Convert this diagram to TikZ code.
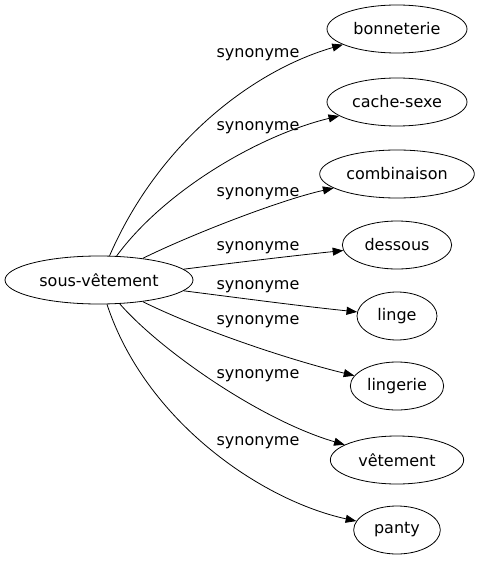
\documentclass[tikz,border=0pt]{standalone}
\usepackage{fontspec}
\setmainfont{DejaVu Sans}
\usetikzlibrary{shapes.geometric,arrows.meta}
\tikzset{
  mot/.style={draw,ellipse,inner sep=0pt,minimum height=36pt,font=\fontsize{12}{14}\selectfont},
  syn/.style={draw,line width=0.6pt,-{Triangle[length=8pt,width=6pt]}},
  lbl/.style={font=\fontsize{12}{14}\selectfont,inner sep=0pt}
}
\begin{document}
\begin{tikzpicture}[x=0.75pt,y=-0.75pt,line width=0.6pt]
  \useasboundingbox (0,0) rectangle (483,563);
  \node[mot,minimum width=141pt] (sv) at (99,280) {sous-vêtement};
  \node[mot,minimum width=105pt] (bon) at (397,29) {bonneterie};
  \node[mot,minimum width=105pt] (cache) at (397,102) {cache-sexe};
  \node[mot,minimum width=116pt] (comb) at (397,174) {combinaison};
  \node[mot,minimum width=82pt] (dess) at (397,245) {dessous};
  \node[mot,minimum width=60pt] (linge) at (397,316) {linge};
  \node[mot,minimum width=70pt] (lingerie) at (397,386) {lingerie};
  \node[mot,minimum width=100pt] (vet) at (397,460) {vêtement};
  \node[mot,minimum width=65pt] (panty) at (397,530) {panty};
  % les arcs
  \draw[syn] (sv) .. controls (160,140) and (255,70) .. (bon);
  \draw[syn] (sv) .. controls (165,190) and (260,135) .. (cache);
  \draw[syn] (sv) .. controls (190,235) and (280,200) .. (comb);
  \draw[syn] (sv) .. controls (240,262) and (300,255) .. (dess);
  \draw[syn] (sv) .. controls (240,298) and (300,306) .. (linge);
  \draw[syn] (sv) .. controls (200,330) and (290,360) .. (lingerie);
  \draw[syn] (sv) .. controls (160,350) and (260,420) .. (vet);
  \draw[syn] (sv) .. controls (145,420) and (260,500) .. (panty);
  % les etiquettes
  \node[lbl] (l1) at (258,55) {synonyme};
  \node[lbl] (l2) at (258,128) {synonyme};
  \node[lbl] (l3) at (258,194) {synonyme};
  \node[lbl] (l4) at (258,248) {synonyme};
  \node[lbl] (l5) at (258,287) {synonyme};
  \node[lbl] (l6) at (258,322) {synonyme};
  \node[lbl] (l7) at (258,376) {synonyme};
  \node[lbl] (l8) at (258,443) {synonyme};
\end{tikzpicture}
\end{document}
